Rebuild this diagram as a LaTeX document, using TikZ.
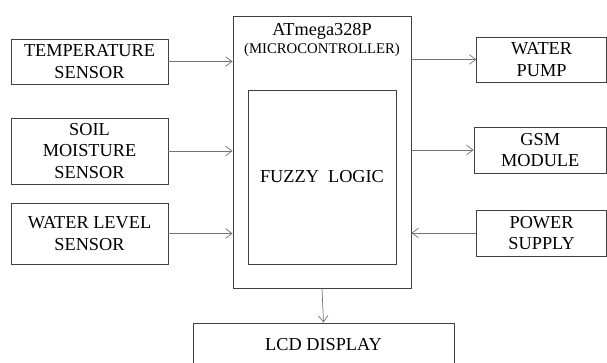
\documentclass[tikz,border=0pt]{standalone}
\usepackage{fontspec}
\setmainfont{Liberation Serif}
\usetikzlibrary{arrows.meta, positioning, calc}

\begin{document}
\begin{tikzpicture}[
    font=\fontsize{13}{15.5}\selectfont,
    block/.style={rectangle, draw=black!75, line width=0.6pt, align=center, inner sep=1pt},
    link/.style={-{Straight Barb[length=1.6mm, width=2.4mm]}, draw=black!55, line width=0.5pt}
]
\useasboundingbox (0,0) rectangle (15.175,-9.075);

% Inputs
\node[block, minimum width=3.925cm, minimum height=1.125cm] (temp) at (2.2375,-1.5375) {TEMPERATURE\\SENSOR};
\node[block, minimum width=3.925cm, minimum height=1.65cm] (soil) at (2.2375,-3.775) {SOIL\\MOISTURE\\SENSOR};
\node[block, minimum width=3.925cm, minimum height=1.525cm] (level) at (2.2375,-5.8375) {WATER LEVEL\\SENSOR};

% Microcontroller
\node[block, minimum width=4.45cm, minimum height=6.8cm] (mcu) at (8.05,-3.8) {};
\node (mcuname) at (8.05,-0.78) {ATmega328P};
\node[font=\fontsize{10.5}{12}\selectfont] (mcusub) at (8.05,-1.24) {(MICROCONTROLLER)};
\node[block, minimum width=3.7cm, minimum height=4.35cm] (fuzzy) at (8.05,-4.425) {FUZZY\ \ LOGIC};

% Outputs
\node[block, minimum width=3.24cm, minimum height=1.125cm] (pump) at (13.54,-1.4875) {WATER\\PUMP};
\node[block, minimum width=3.3125cm, minimum height=1.15cm] (gsm) at (13.506,-3.75) {GSM\\MODULE};
\node[block, minimum width=3.24cm, minimum height=1.15cm] (power) at (13.54,-5.825) {POWER\\SUPPLY};
\node[block, minimum width=6.525cm, minimum height=1.075cm] (lcd) at (8.0875,-8.6125) {LCD DISPLAY};

% Connections
\draw[link] (temp.east) -- (temp.east -| mcu.west);
\draw[link] (soil.east) -- (soil.east -| mcu.west);
\draw[link] (level.east) -- (level.east -| mcu.west);
\draw[link] (pump.west -| mcu.east) -- (pump.west);
\draw[link] (gsm.west -| mcu.east) -- (gsm.west);
\draw[link] (power.west) -- (power.west -| mcu.east);
\draw[link] (mcu.south) -- (lcd.north);

\end{tikzpicture}
\end{document}
